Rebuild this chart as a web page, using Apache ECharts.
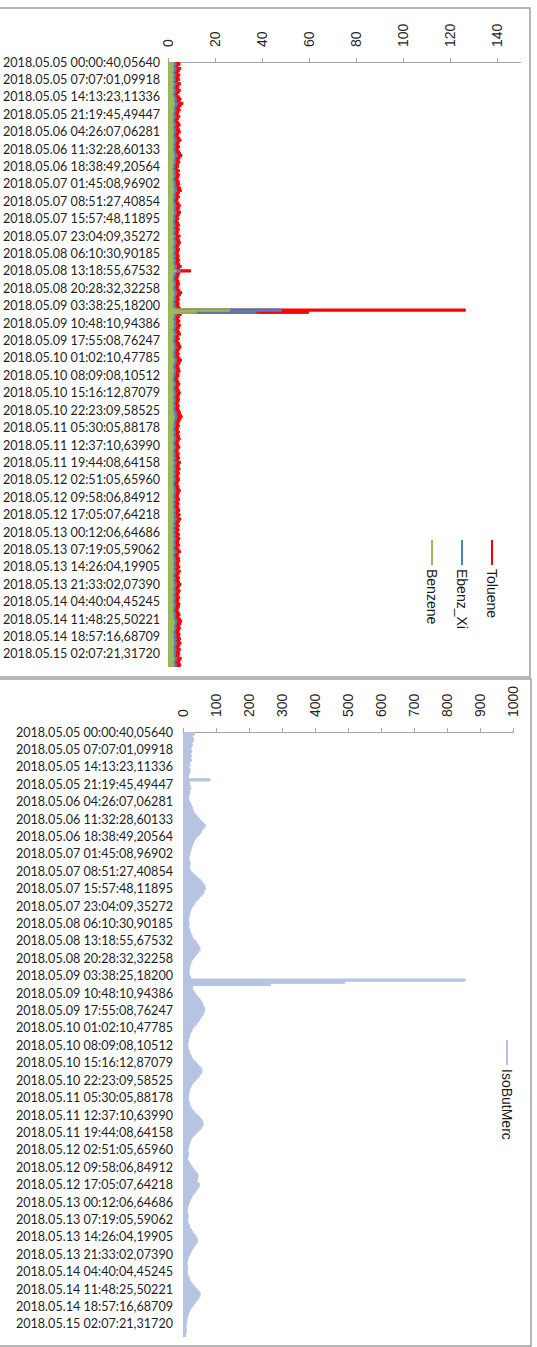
<!DOCTYPE html>
<html>
<head>
<meta charset="utf-8">
<title>Toluene / Ebenz_Xi / Benzene / IsoButMerc</title>
<script src="https://cdn.jsdelivr.net/npm/echarts@6/dist/echarts.min.js"></script>
<style>
  html, body { margin: 0; padding: 0; background: #ffffff; }
  #chart { width: 537px; height: 1347px; }
</style>
</head>
<body>
<div id="chart"></div>
<script>
// Sample timestamps shown on the time axis (one every 8 samples)
const timeLabels = [
  '2018.05.05 00:00:40,05640', '2018.05.05 07:07:01,09918', '2018.05.05 14:13:23,11336',
  '2018.05.05 21:19:45,49447', '2018.05.06 04:26:07,06281', '2018.05.06 11:32:28,60133',
  '2018.05.06 18:38:49,20564', '2018.05.07 01:45:08,96902', '2018.05.07 08:51:27,40854',
  '2018.05.07 15:57:48,11895', '2018.05.07 23:04:09,35272', '2018.05.08 06:10:30,90185',
  '2018.05.08 13:18:55,67532', '2018.05.08 20:28:32,32258', '2018.05.09 03:38:25,18200',
  '2018.05.09 10:48:10,94386', '2018.05.09 17:55:08,76247', '2018.05.10 01:02:10,47785',
  '2018.05.10 08:09:08,10512', '2018.05.10 15:16:12,87079', '2018.05.10 22:23:09,58525',
  '2018.05.11 05:30:05,88178', '2018.05.11 12:37:10,63990', '2018.05.11 19:44:08,64158',
  '2018.05.12 02:51:05,65960', '2018.05.12 09:58:06,84912', '2018.05.12 17:05:07,64218',
  '2018.05.13 00:12:06,64686', '2018.05.13 07:19:05,59062', '2018.05.13 14:26:04,19905',
  '2018.05.13 21:33:02,07390', '2018.05.14 04:40:04,45245', '2018.05.14 11:48:25,50221',
  '2018.05.14 18:57:16,68709', '2018.05.15 02:07:21,31720'
];
const samplesPerLabel = 8;

// Concentrations, top chart (one row per labelled interval)
const toluene = [
  4.6, 5.1, 4.2, 5.4, 4.8, 4.3, 5.0, 4.5,
  4.9, 4.1, 5.3, 4.6, 4.4, 5.2, 4.7, 4.0,
  4.8, 5.5, 5.0, 6.3, 5.6, 4.9, 5.2, 4.6,
  4.3, 5.0, 4.5, 4.1, 4.7, 5.1, 4.4, 4.8,
  5.2, 4.6, 4.2, 5.0, 5.5, 4.7, 4.4, 4.9,
  4.2, 4.8, 5.3, 5.9, 5.1, 4.6, 5.0, 4.4,
  4.5, 4.0, 4.8, 4.3, 4.9, 4.5, 4.1, 4.7,
  5.0, 4.6, 5.4, 5.7, 4.9, 4.4, 4.8, 4.2,
  4.1, 4.7, 5.2, 4.8, 4.5, 5.3, 4.9, 4.4,
  4.6, 4.0, 4.5, 4.9, 4.3, 4.8, 4.4, 4.1,
  5.1, 4.5, 4.9, 5.3, 4.7, 4.3, 4.8, 4.6,
  4.2, 4.7, 4.4, 4.9, 4.5, 5.0, 5.6, 4.8,
  9.6, 5.0, 4.6, 4.3, 4.2, 4.7, 4.9, 4.5,
  4.4, 5.0, 5.8, 5.2, 4.6, 4.9, 4.3, 4.7,
  4.5, 5.1, 126.5, 59.8, 5.6, 4.9, 4.4, 5.0,
  4.6, 5.2, 4.8, 4.3, 4.9, 5.3, 4.5, 4.8,
  4.2, 4.7, 5.1, 5.5, 4.9, 4.5, 4.8, 4.4,
  5.0, 5.7, 5.2, 4.8, 4.4, 4.9, 5.1, 4.6,
  4.7, 4.2, 4.0, 4.6, 5.0, 4.5, 4.3, 4.8,
  5.2, 4.8, 4.5, 4.9, 4.6, 4.2, 4.7, 4.4,
  4.8, 5.3, 5.6, 6.0, 5.4, 5.0, 4.6, 4.9,
  4.5, 4.2, 4.8, 4.4, 4.9, 5.2, 4.7, 4.3,
  4.6, 5.0, 4.4, 4.1, 4.7, 4.5, 4.9, 4.3,
  5.3, 4.8, 4.6, 5.1, 4.5, 4.9, 4.4, 4.7,
  4.9, 4.3, 4.1, 4.6, 4.8, 5.2, 4.7, 4.4,
  4.5, 4.9, 4.3, 4.7, 4.2, 4.6, 5.0, 4.5,
  5.1, 4.6, 5.4, 4.9, 4.5, 4.8, 4.3, 4.7,
  4.2, 4.8, 4.5, 5.0, 4.6, 4.4, 4.9, 4.3,
  4.7, 5.3, 4.5, 4.2, 4.8, 5.0, 4.6, 4.4,
  5.0, 4.5, 5.2, 4.7, 4.3, 4.8, 4.5, 4.9,
  5.5, 4.9, 4.5, 5.1, 4.7, 4.3, 4.9, 4.6,
  4.4, 5.0, 4.8, 4.5, 4.2, 4.7, 5.1, 4.6,
  5.2, 5.8, 5.4, 5.0, 5.3, 4.8, 4.6, 5.1,
  4.7, 5.3, 4.9, 5.5, 5.0, 4.6, 5.2, 4.8,
  5.0, 4.6, 5.6, 5.1, 4.8, 5.4, 5.0
];
const ebenzXi = [
  3.0, 3.4, 2.8, 3.5, 3.1, 2.7, 3.3, 2.9,
  3.2, 2.7, 3.5, 3.0, 2.8, 3.4, 3.1, 2.6,
  3.2, 3.6, 3.3, 4.2, 3.7, 3.2, 3.4, 3.0,
  2.8, 3.3, 2.9, 2.6, 3.1, 3.4, 2.8, 3.2,
  3.4, 3.0, 2.7, 3.3, 3.6, 3.1, 2.9, 3.2,
  2.7, 3.2, 3.5, 3.9, 3.4, 3.0, 3.3, 2.9,
  2.9, 2.6, 3.1, 2.8, 3.2, 2.9, 2.7, 3.1,
  3.3, 3.0, 3.6, 3.8, 3.2, 2.9, 3.1, 2.7,
  2.7, 3.1, 3.4, 3.2, 2.9, 3.5, 3.2, 2.9,
  3.0, 2.6, 2.9, 3.2, 2.8, 3.1, 2.9, 2.7,
  3.3, 2.9, 3.2, 3.5, 3.1, 2.8, 3.2, 3.0,
  2.7, 3.1, 2.9, 3.2, 2.9, 3.3, 3.7, 3.1,
  5.2, 3.3, 3.0, 2.8, 2.7, 3.1, 3.2, 2.9,
  2.9, 3.3, 3.8, 3.4, 3.0, 3.2, 2.8, 3.1,
  2.9, 3.4, 48.2, 37.5, 3.7, 3.2, 2.9, 3.3,
  3.0, 3.4, 3.1, 2.8, 3.2, 3.5, 2.9, 3.1,
  2.7, 3.1, 3.3, 3.6, 3.2, 2.9, 3.1, 2.9,
  3.3, 3.7, 3.4, 3.1, 2.9, 3.2, 3.3, 3.0,
  3.1, 2.7, 2.6, 3.0, 3.3, 2.9, 2.8, 3.1,
  3.4, 3.1, 2.9, 3.2, 3.0, 2.7, 3.1, 2.9,
  3.1, 3.5, 3.7, 3.9, 3.5, 3.3, 3.0, 3.2,
  2.9, 2.7, 3.1, 2.9, 3.2, 3.4, 3.1, 2.8,
  3.0, 3.3, 2.9, 2.7, 3.1, 2.9, 3.2, 2.8,
  3.5, 3.1, 3.0, 3.3, 2.9, 3.2, 2.9, 3.1,
  3.2, 2.8, 2.7, 3.0, 3.1, 3.4, 3.1, 2.9,
  2.9, 3.2, 2.8, 3.1, 2.7, 3.0, 3.3, 2.9,
  3.3, 3.0, 3.5, 3.2, 2.9, 3.1, 2.8, 3.1,
  2.7, 3.1, 2.9, 3.3, 3.0, 2.9, 3.2, 2.8,
  3.1, 3.5, 2.9, 2.7, 3.1, 3.3, 3.0, 2.9,
  3.3, 2.9, 3.4, 3.1, 2.8, 3.1, 2.9, 3.2,
  3.6, 3.2, 2.9, 3.3, 3.1, 2.8, 3.2, 3.0,
  2.9, 3.3, 3.1, 2.9, 2.7, 3.1, 3.3, 3.0,
  3.4, 3.8, 3.5, 3.3, 3.5, 3.1, 3.0, 3.3,
  3.1, 3.5, 3.2, 3.6, 3.3, 3.0, 3.4, 3.1,
  3.3, 3.0, 3.7, 3.4, 3.1, 3.5, 3.3
];
const benzene = [
  2.1, 2.4, 1.9, 2.3, 2.2, 1.8, 2.2, 2.0,
  2.2, 1.9, 2.4, 2.1, 1.9, 2.3, 2.1, 1.8,
  2.2, 2.5, 2.3, 2.7, 2.5, 2.2, 2.3, 2.1,
  1.9, 2.2, 2.0, 1.8, 2.1, 2.3, 1.9, 2.2,
  2.3, 2.1, 1.9, 2.2, 2.4, 2.1, 2.0, 2.2,
  1.9, 2.2, 2.4, 2.6, 2.3, 2.1, 2.2, 2.0,
  2.0, 1.8, 2.1, 1.9, 2.2, 2.0, 1.8, 2.1,
  2.2, 2.0, 2.4, 2.5, 2.2, 2.0, 2.1, 1.9,
  1.9, 2.1, 2.3, 2.2, 2.0, 2.4, 2.2, 2.0,
  2.1, 1.8, 2.0, 2.2, 1.9, 2.1, 2.0, 1.8,
  2.3, 2.0, 2.2, 2.4, 2.1, 1.9, 2.2, 2.1,
  1.9, 2.1, 2.0, 2.2, 2.0, 2.3, 2.5, 2.1,
  3.4, 2.2, 2.1, 1.9, 1.9, 2.1, 2.2, 2.0,
  2.0, 2.3, 2.6, 2.3, 2.1, 2.2, 1.9, 2.1,
  2.0, 2.3, 26.0, 12.0, 2.5, 2.2, 2.0, 2.3,
  2.1, 2.4, 2.2, 1.9, 2.2, 2.4, 2.0, 2.1,
  1.9, 2.1, 2.3, 2.5, 2.2, 2.0, 2.1, 2.0,
  2.3, 2.6, 2.3, 2.1, 2.0, 2.2, 2.3, 2.1,
  2.1, 1.9, 1.8, 2.1, 2.3, 2.0, 1.9, 2.1,
  2.3, 2.1, 2.0, 2.2, 2.1, 1.9, 2.1, 2.0,
  2.1, 2.4, 2.5, 2.7, 2.4, 2.3, 2.1, 2.2,
  2.0, 1.9, 2.1, 2.0, 2.2, 2.3, 2.1, 1.9,
  2.1, 2.3, 2.0, 1.8, 2.1, 2.0, 2.2, 1.9,
  2.4, 2.1, 2.0, 2.3, 2.0, 2.2, 2.0, 2.1,
  2.2, 1.9, 1.8, 2.1, 2.1, 2.3, 2.1, 2.0,
  2.0, 2.2, 1.9, 2.1, 1.9, 2.1, 2.3, 2.0,
  2.3, 2.1, 2.4, 2.2, 2.0, 2.1, 1.9, 2.1,
  1.9, 2.1, 2.0, 2.3, 2.1, 2.0, 2.2, 1.9,
  2.1, 2.4, 2.0, 1.9, 2.1, 2.3, 2.1, 2.0,
  2.3, 2.0, 2.4, 2.1, 1.9, 2.2, 2.0, 2.2,
  2.5, 2.2, 2.0, 2.3, 2.1, 1.9, 2.2, 2.1,
  2.0, 2.3, 2.1, 2.0, 1.9, 2.1, 2.3, 2.1,
  2.4, 2.7, 2.5, 2.3, 2.5, 2.2, 2.1, 2.3,
  2.1, 2.4, 2.2, 2.5, 2.3, 2.1, 2.4, 2.2,
  2.3, 2.1, 2.6, 2.4, 2.2, 2.5, 2.3
];

// Concentration, bottom chart
const isoButMerc = [
  30, 34, 28, 31, 32, 27, 29, 25,
  24, 27, 22, 25, 23, 26, 20, 22,
  18, 21, 22, 19, 17, 16, 82, 20,
  19, 22, 24, 21, 20, 18, 17, 19,
  20, 23, 26, 29, 31, 34, 38, 44,
  50, 56, 63, 68, 64, 58, 55, 50,
  43, 38, 34, 31, 28, 26, 24, 22,
  20, 19, 18, 20, 22, 21, 19, 20,
  24, 30, 37, 45, 52, 58, 63, 67,
  68, 64, 62, 56, 50, 44, 38, 34,
  29, 26, 23, 21, 19, 18, 17, 18,
  19, 17, 18, 21, 22, 25, 28, 31,
  37, 42, 47, 51, 52, 47, 42, 36,
  31, 27, 24, 22, 20, 19, 18, 19,
  21, 24, 855, 490, 265, 30, 28, 32,
  36, 41, 46, 52, 57, 60, 62, 66,
  65, 63, 60, 55, 51, 46, 42, 36,
  30, 27, 24, 21, 19, 17, 16, 15,
  15, 16, 18, 20, 22, 25, 28, 33,
  40, 46, 52, 57, 58, 54, 50, 44,
  38, 32, 27, 24, 21, 19, 18, 17,
  16, 17, 19, 21, 23, 26, 30, 36,
  44, 50, 56, 60, 62, 59, 55, 48,
  42, 36, 30, 25, 22, 20, 18, 16,
  15, 16, 17, 15, 14, 16, 20, 24,
  28, 33, 38, 43, 46, 44, 42, 45,
  50, 48, 44, 39, 34, 29, 26, 22,
  19, 17, 15, 14, 13, 14, 16, 15,
  14, 15, 17, 20, 22, 26, 30, 35,
  40, 43, 44, 40, 36, 31, 27, 23,
  20, 17, 15, 13, 12, 13, 14, 13,
  13, 14, 16, 19, 21, 25, 30, 36,
  42, 48, 52, 51, 48, 43, 38, 33,
  28, 24, 20, 17, 15, 13, 12, 11,
  10, 9, 10, 11, 9, 8, 8
];

// Value axis tick labels
const topTicks = [0, 20, 40, 60, 80, 100, 120, 140];
const bottomTicks = [0, 100, 200, 300, 400, 500, 600, 700, 800, 900, 1000];

const seriesNamesTop = ['Toluene', 'Ebenz_Xi', 'Benzene'];
const seriesNameBottom = 'IsoButMerc';

// Category list: a timestamp every few samples, blanks in between
const categories = toluene.map((_, i) =>
  (i % samplesPerLabel === 0 && timeLabels[i / samplesPerLabel]) ? timeLabels[i / samplesPerLabel] : '');

const colors = { Toluene: '#ff0000', Ebenz_Xi: '#4f81bd', Benzene: '#9bbb59', IsoButMerc: '#b6c4e2' };

const labelFont = 'Lato, "Open Sans", sans-serif';
const valueFont = '"Liberation Sans", Arial, sans-serif';
const axisGray = '#a6a6a6';

function valueAxis(gridIndex, max, ticks) {
  return {
    type: 'value', gridIndex, position: 'top', min: 0, max,
    axisLine: { show: true, lineStyle: { color: axisGray, width: 1 } },
    axisTick: { show: true, inside: false, length: 4, lineStyle: { color: axisGray }, customValues: ticks },
    axisLabel: {
      rotate: -90, margin: 15, color: '#262626', fontSize: 14, fontFamily: valueFont,
      customValues: ticks, formatter: (v) => String(v)
    },
    splitLine: { show: false }
  };
}
function timeAxis(gridIndex, margin) {
  return {
    type: 'category', gridIndex, inverse: true, boundaryGap: false, data: categories,
    axisLine: { show: true, lineStyle: { color: axisGray, width: 1 } },
    axisTick: { show: false },
    axisLabel: { interval: 0, margin, color: '#1f1f1f', fontSize: 12.6, fontFamily: labelFont },
    splitLine: { show: false }
  };
}
function lineSeries(name, data, axisIndex) {
  return {
    name, type: 'line', data, xAxisIndex: axisIndex, yAxisIndex: axisIndex,
    showSymbol: false, symbol: 'none', step: 'middle',
    lineStyle: { color: colors[name], width: 1 },
    itemStyle: { color: colors[name] },
    areaStyle: { color: colors[name], opacity: 1 },
    emphasis: { disabled: true }
  };
}

// Legend entries: short line sample followed by rotated name
function legendEntry(name, x, yLine, lineLen) {
  return [
    { type: 'line', shape: { x1: x, y1: yLine, x2: x, y2: yLine + lineLen },
      style: { stroke: colors[name], lineWidth: 2 }, z: 100 },
    { type: 'text', x: x, y: yLine + lineLen + 4, rotation: -Math.PI / 2,
      style: { text: name, fontSize: 14, fontFamily: valueFont, fill: '#1a1a1a',
               align: 'left', verticalAlign: 'middle' }, z: 100 }
  ];
}

const chart = echarts.init(document.getElementById('chart'), null, { renderer: 'svg' });
chart.setOption({
  backgroundColor: '#ffffff',
  animation: false,
  grid: [
    { left: 165, top: 62, width: 355.5, height: 605 },
    { left: 183, top: 732, width: 330, height: 605 }
  ],
  xAxis: [valueAxis(0, 150, topTicks), valueAxis(1, 1000, bottomTicks)],
  yAxis: [timeAxis(0, 8), timeAxis(1, 10)],
  series: [
    lineSeries('Toluene', toluene, 0),
    lineSeries('Ebenz_Xi', ebenzXi, 0),
    lineSeries('Benzene', benzene, 0),
    lineSeries(seriesNameBottom, isoButMerc, 1)
  ],
  graphic: [
    { type: 'rect', shape: { x: -2, y: 8, width: 532, height: 669 },
      style: { fill: 'none', stroke: '#a0a0a0', lineWidth: 1.5 }, z: 90 },
    { type: 'rect', shape: { x: -2, y: 679, width: 533, height: 667 },
      style: { fill: 'none', stroke: '#a0a0a0', lineWidth: 1.5 }, z: 90 },
    ...legendEntry(seriesNamesTop[0], 492, 540, 25),
    ...legendEntry(seriesNamesTop[1], 462, 540, 25),
    ...legendEntry(seriesNamesTop[2], 432, 540, 25),
    ...legendEntry(seriesNameBottom, 507, 1040, 25)
  ]
});
</script>
</body>
</html>
